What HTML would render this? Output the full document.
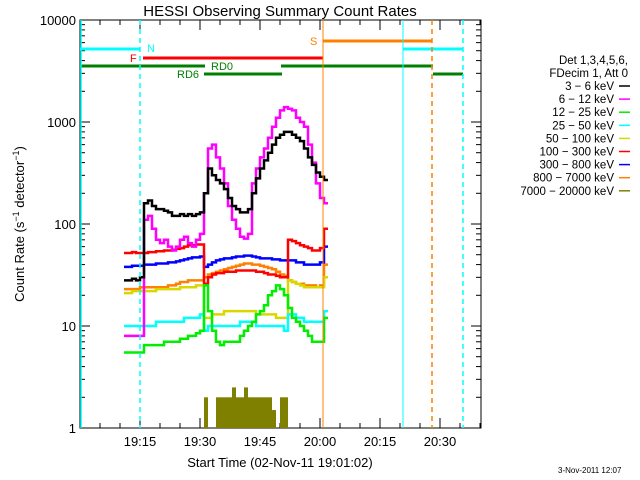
<!DOCTYPE html>
<html><head><meta charset="utf-8"><style>
body{margin:0;background:#fff;}
svg{display:block;font-family:"Liberation Sans",sans-serif;}
</style></head><body>
<svg id="chart" width="640" height="480" viewBox="0 0 640 480" xmlns="http://www.w3.org/2000/svg">
<rect width="640" height="480" fill="#fff"/>
<text x="280" y="16" font-size="15" text-anchor="middle">HESSI Observing Summary Count Rates</text>
<text x="280" y="467" font-size="13" text-anchor="middle">Start Time (02-Nov-11 19:01:02)</text>
<text transform="translate(24,224) rotate(-90)" font-size="13" text-anchor="middle">Count Rate (s<tspan dy="-5" font-size="9">−1</tspan><tspan dy="5"> detector</tspan><tspan dy="-5" font-size="9">−1</tspan><tspan dy="5">)</tspan></text>
<text x="558" y="473" font-size="8">3-Nov-2011 12:07</text>
<g id="legend" font-size="11.5" text-anchor="end">
<text x="628" y="64">Det 1,3,4,5,6,</text>
<text x="628" y="77">FDecim 1, Att 0</text>
</g>
<g id="axes"></g>
<g id="bars"></g>
<g id="series"></g>
<g id="vlines"></g>
</svg>
<script>
const minutes=[];for(let t=11;t<=61;t++)minutes.push(t);
const black=[28,28,29,28,30,160,170,150,140,140,135,130,120,120,125,120,125,120,125,130,200,350,300,270,250,220,180,150,140,130,130,140,200,280,350,420,500,600,700,750,800,800,750,700,650,550,450,380,320,290,270];
const magenta=[8,8,8,8,8,110,120,90,70,65,70,60,55,60,70,75,65,60,70,80,200,550,600,450,350,250,150,110,90,75,72,80,250,350,450,550,700,900,1100,1300,1400,1350,1300,1100,1000,900,600,400,250,180,160];
const red=[52,52,53,52,52,52,53,53,54,54,55,55,56,57,58,60,62,62,63,63,26,30,32,33,33,34,34,34,35,35,35,35,35,34,34,33,32,32,31,30,30,70,68,65,62,60,58,55,55,58,90];
const blue=[38,38,39,39,39,40,40,40,41,41,41,42,42,43,44,45,46,47,47,48,38,40,42,44,45,46,46,47,48,48,49,49,48,47,46,46,46,45,45,44,44,44,44,42,42,40,40,40,40,42,60];
const orange=[23,23,23,23,24,24,24,24,24,24,24,25,25,26,27,27,28,28,28,28,30,32,33,34,35,36,37,38,39,40,41,41,40,40,39,38,37,36,34,32,31,28,27,26,26,25,25,25,24,25,40];
const yellow=[21,21,22,22,22,22,22,22,23,23,23,23,23,23,24,24,24,24,25,25,12,12,13,13,13,14,14,14,14,14,14,14,14,13,13,13,13,13,12,12,12,28,27,26,25,24,24,24,24,24,30];
const cyan=[10,10,10,10,10,10,10,10,11,11,11,11,11,11,11,12,12,12,12,13,9,10,10,10,10,10,10,10,10,11,11,11,11,10,10,10,10,10,10,10,9,13,13,12,12,11,11,11,11,11,14];
const green=[5.5,5.5,5.5,5.5,5.5,6.5,6.5,6.5,6.5,6.5,7,7,7,7,7.5,7.5,8,8,8.5,9,25,14,9,7,6.5,7,7,7,7,8,9,10,11,13,14,16,20,22,25,23,20,15,12,11,10,9,8,7,7,7,12];
const olive=[1,1,1,1,1,1,1,1,1,1,1,1,1,1,1,1,1,1,1,1,2,1,1,2,2,2,2,2.5,2,2,2.5,2,2,2,2,2,2,1.5,1,2,2,1,1,1,1,1,1,1,1,1,1];
const seriesNames=["3 − 6 keV","6 − 12 keV","12 − 25 keV","25 − 50 keV","50 − 100 keV","100 − 300 keV","300 − 800 keV","800 − 7000 keV","7000 − 20000 keV"];
const seriesColors=["#000","#ff00ff","#00ee00","#00ffff","#d8d800","#ff0000","#0000ff","#ff8000","#808000"];
const yTicks=[1,10,100,1000,10000];
const xTickLabels=["19:15","19:30","19:45","20:00","20:15","20:30"];
const xTickMinutes=[15,30,45,60,75,90];

const X0=80,X1=481,Y0=428,Y1=20;
const x=t=>X0+4*t;
const y=v=>Y0-102*Math.log10(v);
const NS="http://www.w3.org/2000/svg";
function mk(tag,parent,attrs){const e=document.createElementNS(NS,tag);for(const k in attrs)e.setAttribute(k,attrs[k]);parent.appendChild(e);return e;}
const axes=document.getElementById('axes');
const frame=mk('rect',axes,{x:X0,y:Y1,width:X1-X0,height:Y0-Y1,fill:'none',stroke:'#000','stroke-width':1});


// y ticks
for(let d=0;d<4;d++){for(let m=1;m<10;m++){const v=Math.pow(10,d)*m;const yy=y(v);const L=m===1?10:5;
mk('line',axes,{x1:X0,x2:X0+L,y1:yy,y2:yy,stroke:'#000'});mk('line',axes,{x1:X1-L,x2:X1,y1:yy,y2:yy,stroke:'#000'});}}
yTicks.forEach(v=>{const t=mk('text',axes,{x:X0-4,y:y(v)+5,'font-size':13,'text-anchor':'end'});t.textContent=v;

});
// x ticks
for(let t=5;t<=100;t+=5){const xx=x(t);const L=t%15===0?10:5;
mk('line',axes,{x1:xx,x2:xx,y1:Y0,y2:Y0-L,stroke:'#000'});mk('line',axes,{x1:xx,x2:xx,y1:Y1,y2:Y1+L,stroke:'#000'});}
xTickLabels.forEach((s,i)=>{const t=mk('text',axes,{x:x(xTickMinutes[i]),y:446,'font-size':13,'text-anchor':'middle'});t.textContent=s;

});
// top bars
const bars=document.getElementById('bars');
const barDefs=[["S-bar","#ff8000",41,60.75,88],["N-bar","#00ffff",49,0,15],["N-bar","#00ffff",49,80.75,95.75],["F-bar","#ff0000",58,15.75,60.75],["RD0-bar","#007f00",66,0,31.25],["RD0-bar","#007f00",66,50.25,88.25],["RD6-bar","#007f00",74,31,50.5],["RD6-bar","#007f00",74,88.25,95.75]];
barDefs.forEach(b=>{const l=mk('line',bars,{x1:x(b[3]),x2:x(b[4]),y1:b[2],y2:b[2],stroke:b[1],'stroke-width':3});

});
[["S",310,45,"#ff8000"],["N",147,52,"#00ffff"],["F",130,62,"#ff0000"],["RD0",211,70,"#007f00"],["RD6",177,78,"#007f00"]].forEach(a=>{const t=mk('text',bars,{x:a[1],y:a[2],'font-size':11,fill:a[3]});t.textContent=a[0];

});
// series
const sg=document.getElementById('series');
const data=[black,magenta,green,cyan,yellow,red,blue,orange];
const order=[7,6,5,4,3,2,1,0];
order.forEach(i=>{const arr=data[i];let d="";arr.forEach((v,k)=>{const x0=x(minutes[k]),x1=x(minutes[k]+1);d+=(k===0?"M":"L")+x0+","+y(v).toFixed(1)+"L"+x1+","+y(v).toFixed(1);});
const p=mk('path',sg,{d:d,fill:'none',stroke:seriesColors[i],'stroke-width':2.5});

});
olive.forEach((v,k)=>{if(v>1){const r=mk('rect',sg,{x:x(minutes[k]),y:y(v),width:4,height:Y0-y(v),fill:'#808000'});

}});
// vertical lines
const vl=document.getElementById('vlines');
[[0.25,"#00ffff",""],[15,"#00ffff","5,4"],[60.75,"#ff8000",""],[80.75,"#00ffff",""],[88,"#ff8000","5,4"],[95.75,"#00ffff","5,4"]].forEach(v=>{const l=mk('line',vl,{x1:x(v[0]),x2:x(v[0]),y1:Y1,y2:Y0,stroke:v[1],'stroke-width':v[0]===0.25||v[2]?1.5:1,'stroke-dasharray':v[2]});

});
// legend entries
const lg=document.getElementById('legend');
seriesNames.forEach((n,i)=>{const yy=90+13.1*i;const t=mk('text',lg,{x:614,y:yy});t.textContent=n;


const l=mk('line',lg,{x1:619,x2:630,y1:yy-4,y2:yy-4,stroke:seriesColors[i],'stroke-width':1.5});

});
</script>
</body></html>
